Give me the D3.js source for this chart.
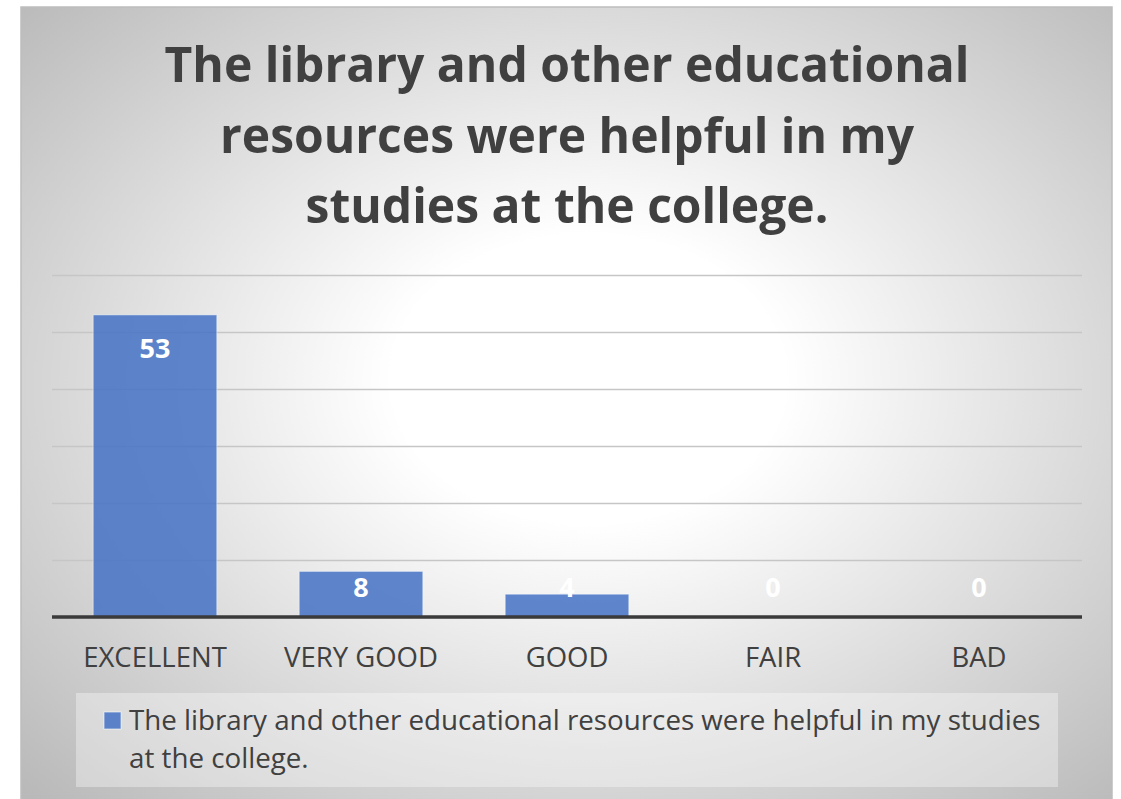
<!DOCTYPE html>
<html>
<head>
<meta charset="utf-8">
<script src="https://cdn.jsdelivr.net/npm/d3@7"></script>
<style>
  html, body { margin: 0; padding: 0; background: #ffffff; }
  svg { display: block; }
</style>
</head>
<body>
<svg id="chart" width="1121" height="799"></svg>
<script>
const titleLines = ["The library and other educational", "resources were helpful in my", "studies at the college."];
const categories = ["EXCELLENT", "VERY GOOD", "GOOD", "FAIR", "BAD"];
const values = [53, 8, 4, 0, 0];
const yTicks = [0, 10, 20, 30, 40, 50, 60];
const seriesName = "The library and other educational resources were helpful in my studies at the college.";
const legendLines = ["The library and other educational resources were helpful in my studies", "at the college."];

const svg = d3.select("#chart");
const frame = { x: 21, y: 7, w: 1091, h: 800 };
const plot = { left: 52, right: 1082, top: 275, bottom: 617 };

const defs = svg.append("defs");
const grad = defs.append("radialGradient")
  .attr("id", "bg")
  .attr("cx", "0.52").attr("cy", "0.48").attr("r", "0.72")
  .attr("fx", "0.52").attr("fy", "0.46");
grad.append("stop").attr("offset", "0").attr("stop-color", "#ffffff");
grad.append("stop").attr("offset", "0.25").attr("stop-color", "#ffffff");
grad.append("stop").attr("offset", "1").attr("stop-color", "#b9b9b9");

svg.append("rect")
  .attr("x", frame.x).attr("y", frame.y)
  .attr("width", frame.w).attr("height", frame.h)
  .attr("fill", "url(#bg)")
  .attr("stroke", "#bdbdbd").attr("stroke-width", 1.5);

// Title
const title = svg.append("g").attr("class", "title");
const titleBase = [82, 153, 223];
const tTexts = title.selectAll("text").data(titleLines).join("text")
  .attr("x", 567)
  .attr("y", (d, i) => titleBase[i])
  .attr("text-anchor", "middle")
  .attr("font-family", "'Open Sans', 'Noto Sans', sans-serif")
  .attr("font-weight", "bold")
  .attr("font-size", 50)
  .attr("fill", "#404040")
  .text(d => d);
{
  const w0 = tTexts.nodes()[0].getComputedTextLength();
  tTexts.attr("font-size", 50 * 805 / w0);
}

// Scales
const x = d3.scaleBand()
  .domain(categories)
  .range([plot.left, plot.right])
  .paddingInner(0.4)
  .paddingOuter(0.2);
const y = d3.scaleLinear()
  .domain([0, 60])
  .range([plot.bottom, plot.top]);

// Gridlines
const grid = svg.append("g")
  .attr("transform", `translate(${plot.left},0)`)
  .call(d3.axisLeft(y).tickValues(yTicks).tickSize(-(plot.right - plot.left)).tickFormat(""));
grid.select(".domain").remove();
grid.selectAll(".tick line")
  .attr("stroke", "#c6c6c6")
  .attr("stroke-width", 1.5);

// Bars
svg.append("g").selectAll("rect")
  .data(categories)
  .join("rect")
  .attr("x", d => x(d))
  .attr("y", (d, i) => y(values[i]))
  .attr("width", x.bandwidth())
  .attr("height", (d, i) => y(0) - y(values[i]))
  .attr("fill", "#4472c4")
  .attr("fill-opacity", 0.85)
  .attr("stroke", "#ffffff")
  .attr("stroke-opacity", 0.45)
  .attr("stroke-width", 1);

// Baseline
svg.append("line")
  .attr("x1", plot.left).attr("x2", plot.right)
  .attr("y1", y(0)).attr("y2", y(0))
  .attr("stroke", "#3a3a3a")
  .attr("stroke-width", 3.5);

// Value labels
svg.append("g").selectAll("text")
  .data(categories)
  .join("text")
  .attr("x", d => x(d) + x.bandwidth() / 2)
  .attr("y", (d, i) => Math.min(y(values[i]) + 43, y(0) - 20))
  .attr("text-anchor", "middle")
  .attr("font-family", "'Open Sans', 'Noto Sans', sans-serif")
  .attr("font-weight", "bold")
  .attr("font-size", 27)
  .attr("fill", "#ffffff")
  .text((d, i) => values[i]);

// Category axis
const xAxis = svg.append("g")
  .attr("transform", `translate(0,${y(0)})`)
  .call(d3.axisBottom(x).tickSize(0).tickPadding(0));
xAxis.select(".domain").remove();
xAxis.selectAll(".tick text")
  .attr("dy", null)
  .attr("y", 50)
  .attr("font-family", "'Open Sans', 'Noto Sans', sans-serif")
  .attr("font-size", 27.5)
  .attr("fill", "#404040");

// Legend
const legend = svg.append("g");
legend.append("rect")
  .attr("x", 76).attr("y", 693)
  .attr("width", 982).attr("height", 94)
  .attr("fill", "#ffffff")
  .attr("fill-opacity", 0.35);
legend.append("rect")
  .attr("x", 104).attr("y", 712)
  .attr("width", 17).attr("height", 17)
  .attr("fill", "#4472c4")
  .attr("fill-opacity", 0.85)
  .attr("stroke", "#ffffff")
  .attr("stroke-opacity", 0.6);
const lTexts = legend.selectAll("text.leg").data(legendLines).join("text")
  .attr("class", "leg")
  .attr("x", 129)
  .attr("y", (d, i) => [730, 768][i])
  .attr("font-family", "'Open Sans', 'Noto Sans', sans-serif")
  .attr("font-size", 26)
  .attr("fill", "#404040")
  .text(d => d);
legend.append("title").text(seriesName);
{
  const w0 = lTexts.nodes()[0].getComputedTextLength();
  lTexts.attr("font-size", 26 * 912 / w0);
}
</script>
</body>
</html>
